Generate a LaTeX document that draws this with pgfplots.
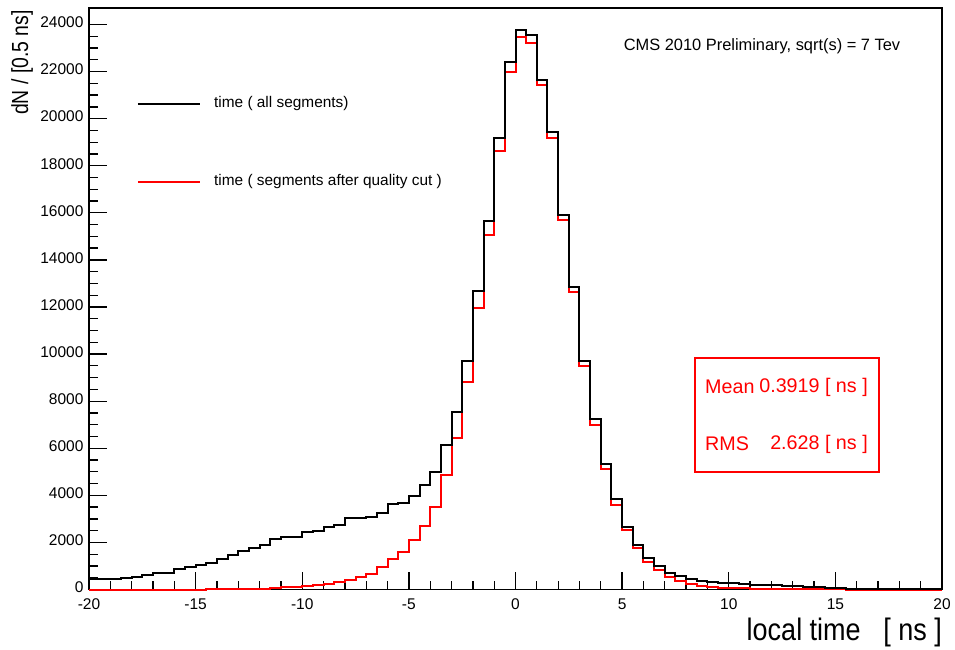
\documentclass[border=0pt]{standalone}
\usepackage{graphicx}
\usepackage{pgfplots}
\pgfplotsset{compat=1.18}
\usepackage{fontspec}
\setmainfont{Liberation Sans}
\begin{document}
\begin{tikzpicture}
\useasboundingbox (-89bp,-60.5bp) rectangle (866bp,589.5bp);
\begin{axis}[
  at={(0,0)}, anchor=south west,
  scale only axis, width=853bp, height=581.5bp,
  xmin=-20, xmax=20, ymin=0, ymax=24700,
  clip=false,
  axis line style={line width=1.3bp},
  xtick={-20,-15,...,20}, minor x tick num=4,
  ytick={0,2000,...,24000}, minor y tick num=3,
  tick align=inside, xtick pos=bottom, ytick pos=left,
  major tick length=18bp, minor tick length=9bp,
  every tick/.style={black, line width=1.3bp},
  scaled y ticks=false,
  /pgf/number format/1000 sep={},
  /pgf/number format/assume math mode=true,
  tick label style={font=\fontsize{15.5bp}{18bp}\selectfont},
  yticklabel style={xshift=-2bp, yshift=2bp},
  xticklabel style={yshift=-6bp},
]
\addplot[const plot, draw=red, line width=2bp] coordinates {
(-20,0)(-19.5,0)(-19,0)(-18.5,0)(-18,0)(-17.5,0)(-17,0)(-16.5,0)(-16,0)(-15.5,0)(-15,0)(-14.5,3)(-14,8)(-13.5,12)(-13,20)(-12.5,31)(-12,42)(-11.5,57)(-11,85)(-10.5,110)(-10,145)(-9.5,195)(-9,250)(-8.5,310)(-8,420)(-7.5,513)(-7,660)(-6.5,935)(-6,1275)(-5.5,1580)(-5,2103)(-4.5,2705)(-4,3485)(-3.5,4850)(-3,6420)(-2.5,8819)(-2,11950)(-1.5,15052)(-1,18636)(-0.5,21994)(0,23453)(0.5,23212)(1,21427)(1.5,19175)(2,15675)(2.5,12644)(3,9513)(3.5,6991)(4,5130)(4.5,3600)(5,2528)(5.5,1750)(6,1183)(6.5,829)(7,546)(7.5,376)(8,234)(8.5,149)(9,106)(9.5,78)(10,55)(10.5,45)(11,35)(11.5,28)(12,22)(12.5,17)(13,12)(13.5,8)(14,5)(14.5,3)(15,1)(15.5,0)(16,0)(16.5,0)(17,0)(17.5,0)(18,0)(18.5,0)(19,0)(19.5,0)(20,0)
};
\addplot[const plot, draw=black, line width=2bp] coordinates {
(-20,446)(-19.5,446)(-19,460)(-18.5,470)(-18,545)(-17.5,616)(-17,687)(-16.5,700)(-16,871)(-15.5,942)(-15,1027)(-14.5,1126)(-14,1310)(-13.5,1480)(-13,1650)(-12.5,1763)(-12,1877)(-11.5,2132)(-11,2217)(-10.5,2240)(-10,2440)(-9.5,2500)(-9,2660)(-8.5,2740)(-8,3040)(-7.5,3055)(-7,3090)(-6.5,3265)(-6,3634)(-5.5,3662)(-5,3974)(-4.5,4420)(-4,4980)(-3.5,6141)(-3,7540)(-2.5,9725)(-2,12686)(-1.5,15661)(-1,19189)(-0.5,22390)(0,23779)(0.5,23552)(1,21654)(1.5,19415)(2,15888)(2.5,12870)(3,9715)(3.5,7246)(4,5340)(4.5,3850)(5,2670)(5.5,1891)(6,1325)(6.5,999)(7,716)(7.5,589)(8,447)(8.5,361)(9,305)(9.5,270)(10,255)(10.5,220)(11,205)(11.5,191)(12,177)(12.5,163)(13,135)(13.5,120)(14,92)(14.5,78)(15,64)(15.5,40)(16,30)(16.5,20)(17,15)(17.5,10)(18,8)(18.5,5)(19,4)(19.5,3)(20,3)
};
% legend
\draw[black, line width=2bp] (rel axis cs:0.0574,0.835) -- (rel axis cs:0.1301,0.835);
\node[anchor=west, inner sep=0pt, font=\fontsize{15.4bp}{18bp}\selectfont] at (rel axis cs:0.1465,0.835) {time ( all segments)};
\draw[red, line width=2bp] (rel axis cs:0.0574,0.7008) -- (rel axis cs:0.1301,0.7008);
\node[anchor=west, inner sep=0pt, font=\fontsize{15.4bp}{18bp}\selectfont] at (rel axis cs:0.1465,0.7008) {time ( segments after quality cut )};
% CMS text
\node[inner sep=0pt, font=\fontsize{16.4bp}{19bp}\selectfont] at (rel axis cs:0.789,0.9347) {CMS 2010 Preliminary, sqrt(s) = 7 Tev};
% stats box
\draw[red, line width=1.8bp] (rel axis cs:0.7104,0.2021) rectangle (rel axis cs:0.9261,0.3981);
\node[red, anchor=west, inner sep=0pt, font=\fontsize{19.7bp}{22bp}\selectfont] at (rel axis cs:0.7222,0.3482) {Mean};
\node[red, anchor=east, inner sep=0pt, font=\fontsize{19.7bp}{22bp}\selectfont] at (rel axis cs:0.9132,0.3482) {0.3919 [ ns ]};
\node[red, anchor=west, inner sep=0pt, font=\fontsize{19.7bp}{22bp}\selectfont] at (rel axis cs:0.7222,0.2502) {RMS};
\node[red, anchor=east, inner sep=0pt, font=\fontsize{19.7bp}{22bp}\selectfont] at (rel axis cs:0.9132,0.2502) {2.628 [ ns ]};
% axis titles
\node[anchor=base east, inner sep=0pt, font=\fontsize{27bp}{30bp}\selectfont] at ([yshift=-51bp]rel axis cs:1,0) {\scalebox{1}[1.15]{local time\ \ \ [ ns ]}};
\node[rotate=90, anchor=east, inner sep=0pt, font=\fontsize{19.4bp}{22bp}\selectfont] at ([xshift=-67bp,yshift=-2bp]rel axis cs:0,1) {\scalebox{1}[1.2]{dN / [0.5 ns]}};
\end{axis}
\end{tikzpicture}
\end{document}
